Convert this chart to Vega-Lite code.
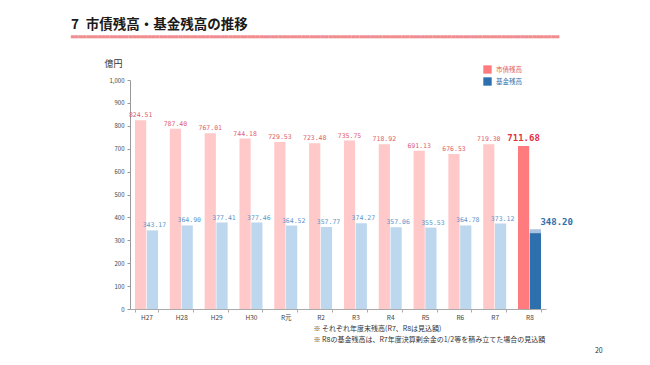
{
  "$schema": "https://vega.github.io/schema/vega-lite/v6.json",
  "width": 416,
  "height": 229,
  "autosize": "none",
  "padding": {"left": 130, "top": 80, "right": 104, "bottom": 56},
  "background": "white",
  "config": {"view": {"stroke": null}, "font": "Noto Sans CJK JP", "axisY": {"tickCount": 20, "labelOverlap": false}},
  "title": {
    "text": "7\u2002市債残高・基金残高の推移",
    "subtitle": "▀▀▀▀▀▀▀▀▀▀▀▀▀▀▀▀▀▀▀▀▀▀▀▀▀▀▀▀▀▀▀▀▀▀▀▀▀▀▀▀▀▀▀▀▀▀▀▀▀▀▀▀▀▀▀▀▀▀▀▀▀▀▀▀▀▀▀▀▀▀▀▀▀▀▀▀▀▀▀▀▀▀▀▀▀▀▀▀▀▀▀▀▀▀▀▀▀▀▀▀▀▀▀▀▀▀▀▀▀▀▀▀▀▀▀▀▀▀▀▀▀▀▀▀▀▀▀",
    "anchor": "start",
    "frame": "group",
    "dx": -59,
    "offset": 18,
    "font": "Noto Sans CJK JP",
    "fontSize": 13.5,
    "fontWeight": "bold",
    "color": "#1a1a1a",
    "subtitleFont": "DejaVu Sans",
    "subtitleFontSize": 5,
    "subtitleColor": "#f08c8f",
    "subtitlePadding": 4.5
  },
  "datasets": {
    "bars": [
      {"year": "H27", "s": "市債残高", "v": 824.51, "c": "市債残高(実績)"},
      {"year": "H27", "s": "基金残高", "v": 343.17, "c": "基金残高(実績)"},
      {"year": "H28", "s": "市債残高", "v": 787.40, "c": "市債残高(実績)"},
      {"year": "H28", "s": "基金残高", "v": 364.90, "c": "基金残高(実績)"},
      {"year": "H29", "s": "市債残高", "v": 767.01, "c": "市債残高(実績)"},
      {"year": "H29", "s": "基金残高", "v": 377.41, "c": "基金残高(実績)"},
      {"year": "H30", "s": "市債残高", "v": 744.18, "c": "市債残高(実績)"},
      {"year": "H30", "s": "基金残高", "v": 377.46, "c": "基金残高(実績)"},
      {"year": "R元", "s": "市債残高", "v": 729.53, "c": "市債残高(実績)"},
      {"year": "R元", "s": "基金残高", "v": 364.52, "c": "基金残高(実績)"},
      {"year": "R2", "s": "市債残高", "v": 723.48, "c": "市債残高(実績)"},
      {"year": "R2", "s": "基金残高", "v": 357.77, "c": "基金残高(実績)"},
      {"year": "R3", "s": "市債残高", "v": 735.75, "c": "市債残高(実績)"},
      {"year": "R3", "s": "基金残高", "v": 374.27, "c": "基金残高(実績)"},
      {"year": "R4", "s": "市債残高", "v": 718.92, "c": "市債残高(実績)"},
      {"year": "R4", "s": "基金残高", "v": 357.06, "c": "基金残高(実績)"},
      {"year": "R5", "s": "市債残高", "v": 691.13, "c": "市債残高(実績)"},
      {"year": "R5", "s": "基金残高", "v": 355.53, "c": "基金残高(実績)"},
      {"year": "R6", "s": "市債残高", "v": 676.53, "c": "市債残高(実績)"},
      {"year": "R6", "s": "基金残高", "v": 364.78, "c": "基金残高(実績)"},
      {"year": "R7", "s": "市債残高", "v": 719.30, "c": "市債残高(実績)"},
      {"year": "R7", "s": "基金残高", "v": 373.12, "c": "基金残高(実績)"},
      {"year": "R8", "s": "市債残高", "v": 711.68, "c": "市債残高"},
      {"year": "R8", "s": "基金残高", "v": 348.20, "c": "基金残高(上乗せ)"},
      {"year": "R8", "s": "基金残高", "v": 331.0, "c": "基金残高"}
    ],
    "labels": [
      {"year": "H27", "s": "市債残高", "v": 824.51},
      {"year": "H27", "s": "基金残高", "v": 343.17},
      {"year": "H28", "s": "市債残高", "v": 787.40},
      {"year": "H28", "s": "基金残高", "v": 364.90},
      {"year": "H29", "s": "市債残高", "v": 767.01},
      {"year": "H29", "s": "基金残高", "v": 377.41},
      {"year": "H30", "s": "市債残高", "v": 744.18},
      {"year": "H30", "s": "基金残高", "v": 377.46},
      {"year": "R元", "s": "市債残高", "v": 729.53},
      {"year": "R元", "s": "基金残高", "v": 364.52},
      {"year": "R2", "s": "市債残高", "v": 723.48},
      {"year": "R2", "s": "基金残高", "v": 357.77},
      {"year": "R3", "s": "市債残高", "v": 735.75},
      {"year": "R3", "s": "基金残高", "v": 374.27},
      {"year": "R4", "s": "市債残高", "v": 718.92},
      {"year": "R4", "s": "基金残高", "v": 357.06},
      {"year": "R5", "s": "市債残高", "v": 691.13},
      {"year": "R5", "s": "基金残高", "v": 355.53},
      {"year": "R6", "s": "市債残高", "v": 676.53},
      {"year": "R6", "s": "基金残高", "v": 364.78},
      {"year": "R7", "s": "市債残高", "v": 719.30},
      {"year": "R7", "s": "基金残高", "v": 373.12},
      {"year": "R8", "s": "市債残高", "v": 711.68},
      {"year": "R8", "s": "基金残高", "v": 348.20}
    ]
  },
  "layer": [
    {
      "data": {"name": "bars"},
      "mark": {"type": "bar"},
      "encoding": {
        "x": {
          "field": "year",
          "type": "ordinal",
          "scale": {"domain": ["H27", "H28", "H29", "H30", "R元", "R2", "R3", "R4", "R5", "R6", "R7", "R8"], "paddingInner": 0.34, "paddingOuter": 0.144},
          "axis": {
            "title": ["※ それぞれ年度末残高(R7、R8は見込額)", "※ R8の基金残高は、R7年度決算剰余金の1/2等を積み立てた場合の見込額", "\u200b\u3000\u3000\u3000\u3000\u3000\u3000\u3000\u3000\u3000\u3000\u3000\u3000\u3000\u3000\u3000\u3000\u3000\u3000\u3000\u3000\u3000\u3000\u3000\u3000\u3000\u3000\u3000\u3000\u3000\u3000\u3000\u3000\u3000\u3000\u3000\u3000\u3000\u3000\u3000\u3000\u200920"],
            "labelAngle": 0,
            "labelFontSize": 6.5,
            "labelColor": "#444",
            "labelPadding": 2,
            "domainColor": "#aaa",
            "tickColor": "#aaa",
            "tickSize": 3,
            "tickBand": "extent",
            "titleX": 183,
            "titleY": 15.5,
            "titleAlign": "left",
            "titleBaseline": "top",
            "titleFont": "Noto Sans CJK JP",
            "titleFontSize": 7,
            "titleFontWeight": "normal",
            "titleColor": "#333",
            "titleLineHeight": 11
          }
        },
        "xOffset": {"field": "s", "type": "nominal", "scale": {"domain": ["市債残高", "基金残高"], "paddingInner": 0.05}},
        "y": {
          "field": "v",
          "type": "quantitative",
          "stack": null,
          "scale": {"domain": [0, 1000], "nice": false},
          "axis": {
            "title": "億円",
            "titleAngle": 0,
            "titleX": -17,
            "titleY": -14,
            "titleAlign": "center",
            "titleBaseline": "alphabetic",
            "titleFontSize": 9,
            "titleFontWeight": "normal",
            "titleColor": "#333",
            "values": [0, 100, 200, 300, 400, 500, 600, 700, 800, 900, 1000],
            "tickCount": 20,
            "format": ",.0f",
            "labelOverlap": false,
            "labelFontSize": 6,
            "labelColor": "#444",
            "labelPadding": 3,
            "grid": false,
            "domainColor": "#999",
            "tickColor": "#999",
            "tickSize": 3
          }
        },
        "color": {
          "field": "c",
          "type": "nominal",
          "scale": {
            "domain": ["市債残高", "基金残高", "市債残高(実績)", "基金残高(実績)", "基金残高(上乗せ)"],
            "range": ["#ff7b7e", "#2e6fae", "#ffc8c9", "#bdd7ee", "#a9c3e0"]
          },
          "legend": {
            "orient": "none",
            "legendX": 353,
            "legendY": -15,
            "title": null,
            "values": ["市債残高", "基金残高"],
            "symbolType": "square",
            "symbolSize": 70,
            "symbolStrokeWidth": 0,
            "labelFontSize": 6.5,
            "labelOffset": 4,
            "rowPadding": 3,
            "encode": {
              "labels": {"update": {"fill": {"signal": "datum.label === '市債残高' ? '#e05a5a' : '#2e6fae'"}}}
            }
          }
        }
      }
    },
    {
      "data": {"name": "labels"},
      "transform": [{"filter": "datum.s === '市債残高' && datum.year !== 'R8'"}],
      "mark": {"type": "text", "font": "DejaVu Sans Mono", "fontSize": 6.5, "color": "#e0606a", "baseline": "bottom", "dy": -2},
      "encoding": {
        "x": {"field": "year", "type": "ordinal"},
        "xOffset": {"field": "s", "type": "nominal"},
        "y": {"field": "v", "type": "quantitative"},
        "text": {"field": "v", "type": "quantitative", "format": ".2f"}
      }
    },
    {
      "data": {"name": "labels"},
      "transform": [{"filter": "datum.s === '基金残高' && datum.year !== 'R8'"}],
      "mark": {"type": "text", "font": "DejaVu Sans Mono", "fontSize": 6.5, "color": "#5b95cc", "baseline": "bottom", "dy": -2, "dx": 2},
      "encoding": {
        "x": {"field": "year", "type": "ordinal"},
        "xOffset": {"field": "s", "type": "nominal"},
        "y": {"field": "v", "type": "quantitative"},
        "text": {"field": "v", "type": "quantitative", "format": ".2f"}
      }
    },
    {
      "data": {"name": "labels"},
      "transform": [{"filter": "datum.s === '市債残高' && datum.year === 'R8'"}],
      "mark": {"type": "text", "font": "DejaVu Sans Mono", "fontSize": 9, "fontWeight": "bold", "color": "#e0313d", "baseline": "bottom", "dy": -3},
      "encoding": {
        "x": {"field": "year", "type": "ordinal"},
        "xOffset": {"field": "s", "type": "nominal"},
        "y": {"field": "v", "type": "quantitative"},
        "text": {"field": "v", "type": "quantitative", "format": ".2f"}
      }
    },
    {
      "data": {"name": "labels"},
      "transform": [{"filter": "datum.s === '基金残高' && datum.year === 'R8'"}],
      "mark": {"type": "text", "font": "DejaVu Sans Mono", "fontSize": 9, "fontWeight": "bold", "color": "#2e6fae", "baseline": "bottom", "align": "left", "dy": -2, "dx": 5},
      "encoding": {
        "x": {"field": "year", "type": "ordinal"},
        "xOffset": {"field": "s", "type": "nominal"},
        "y": {"field": "v", "type": "quantitative"},
        "text": {"field": "v", "type": "quantitative", "format": ".2f"}
      }
    }
  ]
}
